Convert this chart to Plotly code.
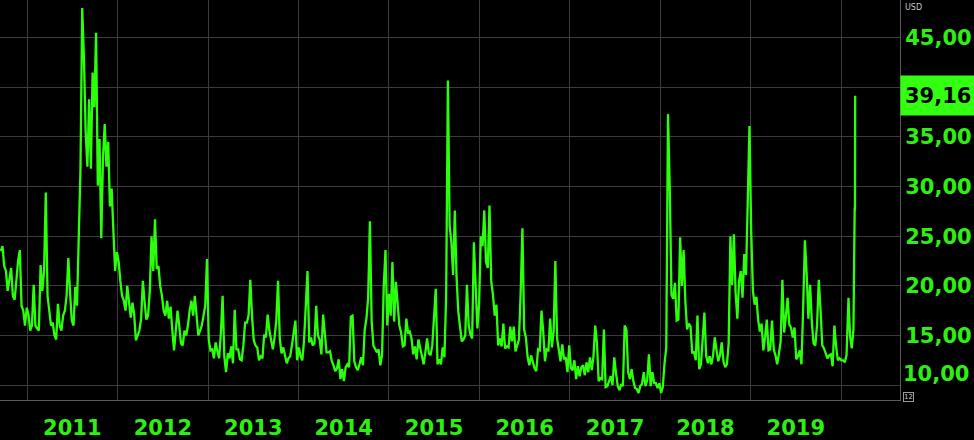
import plotly.graph_objects as go
import pandas as pd

# Weekly VIX-style readings (USD)
vix_2010 = [23.5, 24.0, 22.0, 21.5, 19.5, 20.5, 21.8, 19.0, 18.6, 20.5, 22.5, 23.6, 18.0, 17.5, 16.0, 17.8]
vix_2011 = [17.1, 15.5, 16.0, 20.1, 16.0, 15.7, 15.5, 22.1,
            19.5, 21.5, 29.4, 19.0, 17.5, 16.0, 16.3, 15.0, 14.6,
            18.2, 16.0, 15.5, 17.0, 17.5, 19.0, 22.8, 19.3, 16.5,
            16.0, 19.9, 18.0, 23.7, 31.7, 48.0, 43.0, 35.5,
            32.0, 38.8, 31.8, 41.5, 38.0, 45.5, 30.1, 34.8, 24.8,
            33.0, 36.3, 32.0, 34.5, 28.0, 29.8, 25.5, 21.5, 23.4]
vix_2012 = [22.5, 20.5, 19.0, 18.5, 17.5, 20.0, 18.0, 16.8,
            18.3, 17.1, 14.5, 15.0, 15.5, 16.7, 20.5, 18.4, 16.6,
            17.0, 19.5, 25.0, 21.5, 26.7, 21.7, 22.0, 20.0, 19.0,
            17.5, 17.0, 18.5, 16.7, 17.9, 15.5, 13.5, 15.5, 17.5,
            16.0, 14.2, 14.0, 15.5, 15.0, 16.0, 17.5, 18.5,
            17.0, 19.0, 17.0, 15.0, 15.5, 16.0, 17.0, 18.0, 22.7]
vix_2013 = [14.6, 13.5, 13.6, 12.7, 14.3, 13.4, 12.7, 15.2, 19.0,
            12.9, 11.3, 13.2, 12.7, 13.9, 12.2, 17.6, 13.6,
            13.6, 12.6, 12.5, 14.0, 16.3, 16.3, 17.0, 20.6, 16.9,
            14.5, 14.0, 13.8, 12.5, 12.9, 12.7, 15.1, 14.8, 17.1,
            15.5, 14.3, 13.6, 14.8, 16.5, 20.5, 14.7, 13.2, 13.8,
            13.0, 12.2, 12.7, 12.9, 14.0, 15.4, 16.5, 12.5]
vix_2014 = [13.8, 12.9, 12.5, 14.5, 18.0, 21.5, 14.3, 14.8, 14.0,
            14.2, 18.0, 15.0, 14.6, 13.1, 17.1, 15.0, 13.3,
            13.3, 13.4, 12.4, 12.0, 11.4, 11.7, 12.6, 10.6, 11.6,
            10.4, 11.8, 12.1, 11.8, 16.9, 17.0, 12.4, 11.8, 11.5,
            12.1, 12.8, 12.0, 15.6, 16.7, 18.8, 26.5, 16.5, 14.0,
            13.7, 13.3, 13.6, 12.0, 13.0, 20.0, 23.6, 16.0]
vix_2015 = [19.2, 17.0, 22.4, 16.4, 20.4, 18.3, 16.0, 15.3, 13.9,
            14.0, 16.7, 15.3, 15.4, 14.7, 13.1, 13.9, 12.6, 14.6,
            13.8, 12.7, 12.1, 13.3, 14.7, 13.2, 13.0, 14.0,
            16.8, 19.7, 12.1, 12.6, 12.1, 13.8, 12.8, 19.1, 40.7,
            26.1, 24.4, 21.1, 27.6, 20.9, 17.4, 16.1, 14.4, 14.6,
            15.0, 20.1, 16.0, 15.1, 14.7, 24.4, 18.9, 15.7, 18.2]
vix_2016 = [25.0, 24.0, 27.6, 22.4, 21.8, 28.1, 20.5, 19.1,
            17.0, 18.1, 14.0, 14.7, 13.9, 16.2, 13.7, 13.9, 13.8,
            15.9, 14.4, 15.9, 13.4, 14.0, 14.6, 19.4, 25.8, 15.6,
            14.8, 12.8, 12.0, 13.0, 12.4, 11.7, 11.4, 13.6,
            13.5, 17.5, 15.4, 12.4, 13.6, 13.5, 16.7, 13.8, 15.4,
            22.5, 14.7, 13.4, 12.4, 14.1, 12.6, 12.8, 11.3, 14.0]
vix_2017 = [11.7, 11.5, 12.5, 10.6, 11.9, 10.9, 11.8, 12.0,
            11.0, 12.3, 11.3, 12.8, 11.5, 12.9, 16.0, 14.2, 10.4,
            10.7, 10.6, 15.6, 9.8, 9.9, 10.4, 10.9, 10.0, 12.8,
            11.2, 9.9, 9.5, 10.1, 9.9, 16.0, 15.6, 11.3, 10.6,
            11.6, 10.4, 9.7, 9.6, 9.2, 9.9, 10.1, 11.3,
            9.9, 10.5, 13.1, 9.9, 11.3, 10.2, 10.2, 9.7, 10.2]
vix_2018 = [9.2, 9.8, 12.2, 13.8, 37.3, 30.0, 19.1, 18.7,
            20.3, 16.5, 16.6, 24.9, 20.0, 23.6, 18.5, 15.6, 16.2,
            15.9, 13.2, 13.4, 12.5, 17.0, 11.6, 12.1, 14.6, 17.3,
            13.0, 12.2, 12.9, 12.1, 13.0, 14.8, 13.5, 12.4, 13.0,
            14.3, 12.4, 11.8, 12.1, 14.2, 25.0, 20.1, 25.2,
            19.3, 16.7, 20.5, 21.5, 18.8, 23.2, 21.1, 28.4, 36.1]
vix_2019 = [25.5, 19.5, 18.1, 18.9, 16.6, 15.4, 16.2, 13.5, 14.8,
            16.6, 13.5, 13.6, 16.5, 13.6, 13.0, 12.1, 13.2,
            14.4, 20.6, 15.3, 16.9, 18.8, 16.1, 15.8, 14.8, 15.8,
            12.6, 12.9, 13.5, 12.1, 17.9, 24.6, 21.2, 16.7, 20.1,
            16.3, 14.2, 14.0, 16.1, 20.6, 17.6, 14.0, 13.7, 13.2,
            12.7, 13.0, 13.1, 11.9, 16.0, 13.9, 12.5, 12.7]
dates_2020 = ["2020-01-02", "2020-01-09", "2020-01-16", "2020-01-23", "2020-01-31",
              "2020-02-06", "2020-02-13", "2020-02-20", "2020-02-24", "2020-02-25",
              "2020-02-26", "2020-02-27"]
vix_2020 = [12.5, 12.5, 12.3, 13.0, 18.8, 15.0, 13.7, 15.6, 25.0, 27.9, 27.6, 39.16]

year_labels = ["2011", "2012", "2013", "2014", "2015", "2016", "2017", "2018", "2019"]
grid_years = [2011, 2012, 2013, 2014, 2015, 2016, 2017, 2018, 2019, 2020]
y_ticks = [10, 15, 20, 25, 30, 35, 40, 45]
y_tick_text = ["", "15,00", "20,00", "25,00", "30,00", "35,00", "", "45,00"]
bottom_tick_value = 10
bottom_tick_text = "10,00"
last_value = 39.16
last_label = "39,16"

GREEN = "#2cff0a"
LABEL_GREEN = "#2df012"
GRID = "#3c3c3c"
FONT = "DejaVu Sans"

yearly = [(2010, vix_2010), (2011, vix_2011), (2012, vix_2012), (2013, vix_2013),
          (2014, vix_2014), (2015, vix_2015), (2016, vix_2016), (2017, vix_2017),
          (2018, vix_2018), (2019, vix_2019)]

xs, ys = [], []
for yr, vals in yearly:
    if yr == 2010:
        start = pd.Timestamp("2010-09-16")
    else:
        start = pd.date_range(f"{yr}-01-01", periods=1, freq="W-THU")[0]
    xs += list(pd.date_range(start, periods=len(vals), freq="7D"))
    ys += vals
xs += list(pd.to_datetime(dates_2020))
ys += vix_2020

fig = go.Figure()
fig.add_trace(go.Scatter(x=xs, y=ys, mode="lines",
                         line=dict(color=GREEN, width=2.3), hoverinfo="skip"))

label_font = dict(family=FONT, size=21, color=LABEL_GREEN, weight="bold")

fig.update_layout(
    width=974, height=440,
    margin=dict(l=0, r=74, t=0, b=37),
    paper_bgcolor="black", plot_bgcolor="black",
    showlegend=False,
    xaxis=dict(
        range=["2010-09-13", "2020-08-26"],
        tickmode="array",
        tickvals=[f"{y}-07-02" for y in year_labels],
        ticktext=year_labels,
        ticks="outside", ticklen=9, tickcolor="black",
        tickfont=label_font,
        showgrid=False, zeroline=False,
        showline=True, linecolor="#5a5a5a", linewidth=1,
        minor=dict(tickvals=[f"{y}-01-01" for y in grid_years], showgrid=True,
                   gridcolor=GRID, gridwidth=1, ticks=""),
    ),
    yaxis=dict(
        side="right",
        range=[8.5, 48.8],
        tickmode="array", tickvals=y_ticks, ticktext=y_tick_text,
        tickfont=label_font,
        ticks="", showgrid=True, gridcolor=GRID, gridwidth=1,
        zeroline=False, showline=True, linecolor="#5a5a5a", linewidth=1,
    ),
    annotations=[
        dict(xref="paper", yref="y", x=1, y=bottom_tick_value, xanchor="left", yanchor="middle",
             xshift=1, yshift=11, text=bottom_tick_text, showarrow=False, font=label_font),
        dict(xref="paper", yref="y", x=1, y=last_value, xanchor="left", yanchor="middle",
             text=last_label, showarrow=False, bgcolor="#33ff11", borderpad=4,
             width=66, height=31, align="left",
             font=dict(family=FONT, size=21, color="black", weight="bold")),
        dict(xref="paper", yref="paper", x=1, y=1, xanchor="left", yanchor="top",
             xshift=3, yshift=-1, text="USD", showarrow=False,
             font=dict(family=FONT, size=8, color="#c8c8c8")),
        dict(xref="paper", yref="paper", x=1, y=0, xanchor="left", yanchor="bottom",
             xshift=3, yshift=-2, text="12", showarrow=False,
             bordercolor="#9a9a9a", borderwidth=1, borderpad=0,
             font=dict(family=FONT, size=7, color="#c8c8c8")),
    ],
)

fig.write_html("out.html",
               config={"displayModeBar": False, "staticPlot": True},
               post_script="document.body.style.margin='0';document.body.style.overflow='hidden';")
